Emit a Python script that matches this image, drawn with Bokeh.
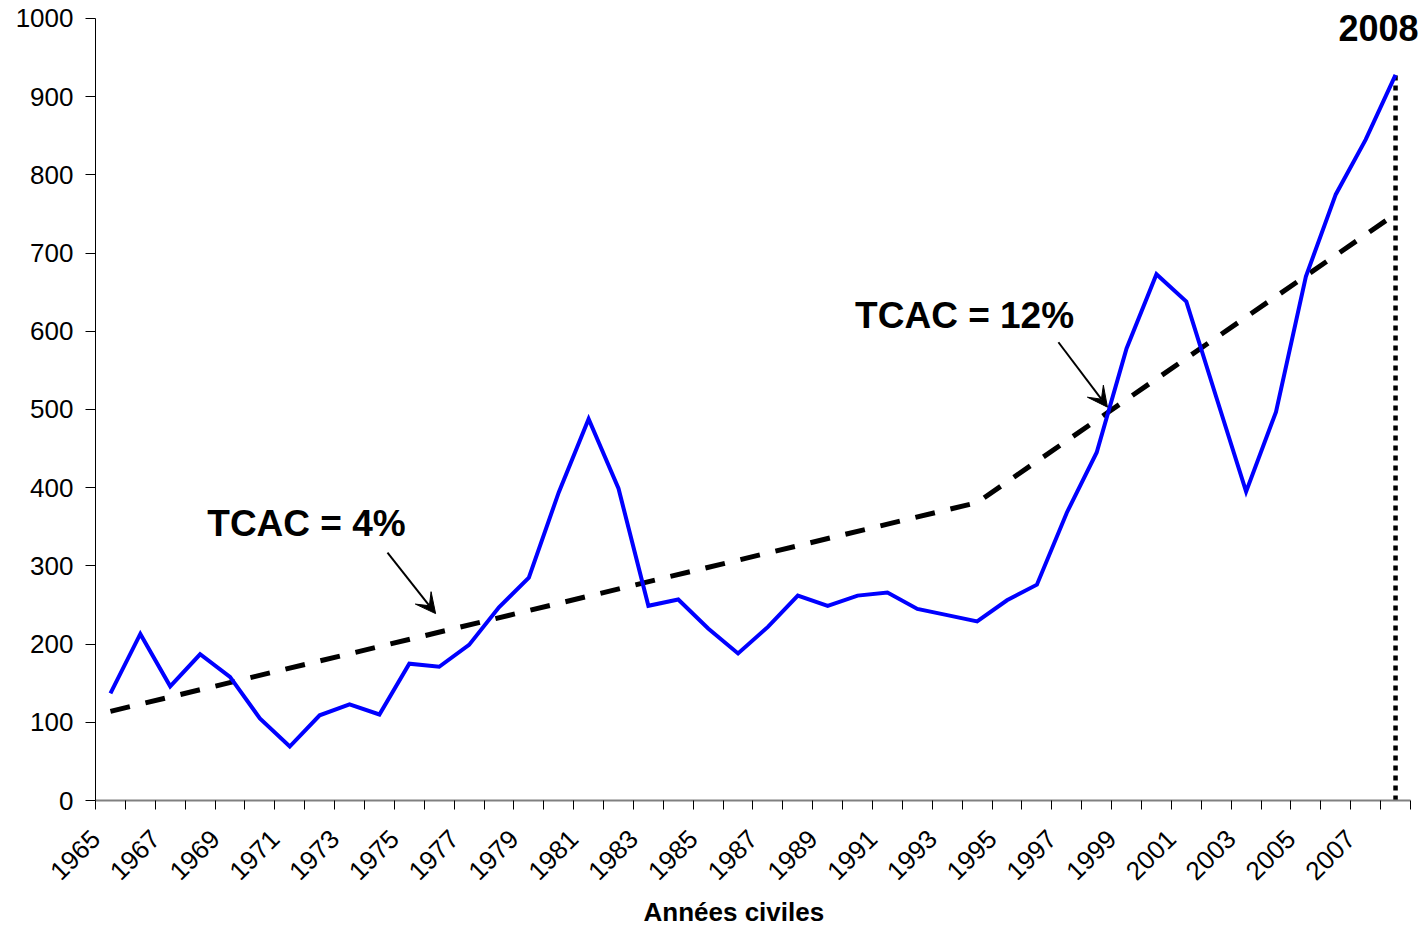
import math
from bokeh.plotting import figure
from bokeh.models import (Range1d, FixedTicker, Label, Arrow, VeeHead, Title,
                          CustomJSTickFormatter)
from bokeh.embed import file_html
from bokeh.resources import INLINE

years = list(range(1965, 2009))
values = [137, 213, 146, 187, 158, 105, 69, 109, 123, 110,
          175, 171, 199, 247, 285, 394, 488, 399, 249, 257,
          220, 188, 222, 262, 249, 262, 266, 245, 237, 229,
          256, 276, 368, 445, 578, 673, 638, 516, 395, 497,
          670, 775, 845, 928]

trend_years = [1965, 1994, 2008]
trend_values = [114, 381, 750]

label_years = list(range(1965, 2008, 2))
y_ticks = list(range(0, 1001, 100))

annot_4 = "TCAC = 4%"
annot_12 = "TCAC = 12%"
annot_last = "2008"
x_title = "Années civiles"

FONT = "Liberation Sans"

# frame is extended a little right/up so the "2008" label is not clipped;
# axes are bounded to the real data extents
p = figure(width=1424, height=933, output_backend="svg", toolbar_location=None,
           x_range=Range1d(1964.5, 2008.969), y_range=Range1d(0, 1023),
           min_border_left=95, min_border_right=0, min_border_top=0,
           min_border_bottom=133)
p.outline_line_color = None
p.grid.visible = False
p.background_fill_color = "white"
p.border_fill_color = "white"

# x axis
xa = p.xaxis[0]
xa.bounds = (years[0] - 0.5, years[-1] + 0.5)
xa.ticker = FixedTicker(ticks=[y - 0.5 for y in label_years],
                        minor_ticks=[y - 0.5 for y in years] + [years[-1] + 0.5])
xa.formatter = CustomJSTickFormatter(code="return (tick + 0.5).toFixed(0);")
xa.major_tick_out = 0
xa.major_tick_in = 0
xa.minor_tick_out = 9
xa.minor_tick_in = 0
xa.minor_tick_line_color = "black"
xa.minor_tick_line_width = 1
xa.axis_line_color = "#808080"
xa.axis_line_width = 2
xa.major_label_orientation = math.pi / 4
xa.major_label_standoff = 25
xa.major_label_text_font = FONT
xa.major_label_text_font_size = "26px"
xa.major_label_text_color = "black"

# x axis title as a below Title (allows horizontal offset)
p.add_layout(Title(text=x_title, align="left", offset=548, standoff=7,
                   text_font=FONT, text_font_size="26px",
                   text_font_style="bold", text_color="black"), "below")

# y axis
ya = p.yaxis[0]
ya.bounds = (0, 1000)
ya.ticker = FixedTicker(ticks=y_ticks, minor_ticks=[])
ya.major_tick_out = 10
ya.major_tick_in = 0
ya.major_tick_line_color = "black"
ya.axis_line_color = "black"
ya.axis_line_width = 1
ya.major_label_standoff = 12
ya.major_label_text_font = FONT
ya.major_label_text_font_size = "26px"
ya.major_label_text_color = "black"

# dotted vertical line at last year
p.line(x=[years[-1], years[-1]], y=[0, values[-1]], line_color="black",
       line_width=4.5, line_dash="5 5")

# trend (dashed)
p.line(x=trend_years, y=trend_values, line_color="black", line_width=5,
       line_dash="20 16")

# main series
p.line(x=years, y=values, line_color="#0000FF", line_width=4, line_join="miter")

# annotations
p.add_layout(Label(x=1971.56, y=354, text=annot_4, text_font=FONT,
                   text_font_size="37px", text_font_style="bold",
                   text_align="center", text_baseline="middle", text_color="black"))
p.add_layout(Label(x=1993.58, y=620, text=annot_12, text_font=FONT,
                   text_font_size="37px", text_font_style="bold",
                   text_align="center", text_baseline="middle", text_color="black"))
p.add_layout(Label(x=2007.43, y=988, text=annot_last, text_font=FONT,
                   text_font_size="36px", text_font_style="bold",
                   text_align="center", text_baseline="middle", text_color="black"))

p.add_layout(Arrow(end=VeeHead(size=20, fill_color="black", line_color="black"),
                   x_start=1974.27, y_start=317, x_end=1975.88, y_end=239,
                   line_width=2, line_color="black"))
p.add_layout(Arrow(end=VeeHead(size=20, fill_color="black", line_color="black"),
                   x_start=1996.72, y_start=586, x_end=1998.36, y_end=503,
                   line_width=2, line_color="black"))

open("out.html", "w").write(file_html(p, INLINE))
